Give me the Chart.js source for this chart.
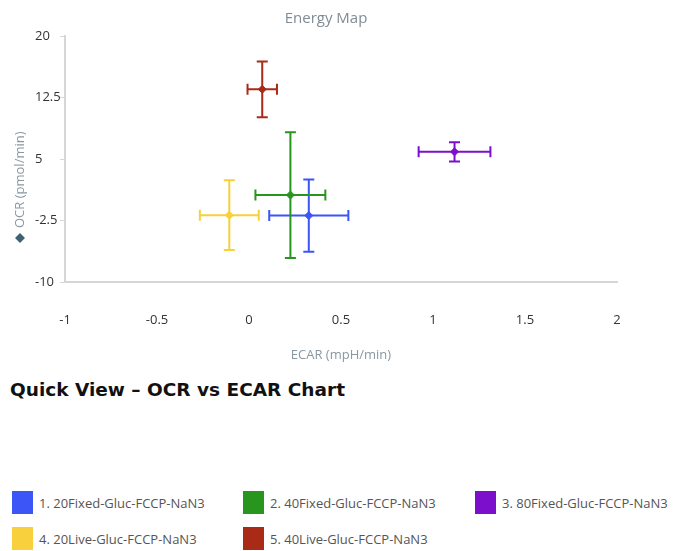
<!DOCTYPE html>
<html>
<head>
<meta charset="utf-8">
<script src="https://cdn.jsdelivr.net/npm/chart.js@4/dist/chart.umd.min.js"></script>
<style>
  html, body { margin: 0; padding: 0; background: #fff; }
  #wrap { position: relative; width: 675px; height: 551px; overflow: hidden; }
  #chartBox { position: absolute; left: 0; top: 0; width: 675px; height: 370px; }
  #heading {
    position: absolute; left: 10px; top: 379px; line-height: 22px;
    font-family: "DejaVu Sans", sans-serif; font-weight: bold; font-size: 18.5px; color: #111;
  }
  .legItem { position: absolute; height: 23px; display: flex; align-items: center;
    font-family: "Open Sans", sans-serif; font-size: 13px; color: #555; white-space: nowrap; }
  .legItem span.sw { display: inline-block; width: 21px; height: 23px; margin-right: 6px; }
</style>
</head>
<body>
<div id="wrap">
  <div id="chartBox"><canvas id="energyChart" width="675" height="370"></canvas></div>
  <div id="heading">Quick View – OCR vs ECAR Chart</div>
  <div id="legend"></div>
</div>
<script>
// Groups
const groupLabels = [
  '1. 20Fixed-Gluc-FCCP-NaN3',
  '2. 40Fixed-Gluc-FCCP-NaN3',
  '3. 80Fixed-Gluc-FCCP-NaN3',
  '4. 20Live-Gluc-FCCP-NaN3',
  '5. 40Live-Gluc-FCCP-NaN3'
];
const groupColors = ['#3b55f7', '#28961e', '#7b0fcc', '#f8cf3c', '#a82a17'];

// ECAR (x) and OCR (y) means with their errors
const ecarValues = [0.325, 0.225, 1.117, -0.107, 0.072];
const ecarErrors = [0.215, 0.19, 0.195, 0.16, 0.08];
const ocrValues = [-1.9, 0.6, 5.87, -1.85, 13.5];
const ocrErrors = [4.4, 7.67, 1.17, 4.25, 3.4];

// Axis ranges and tick labels
const xMin = -1, xMax = 2, xStep = 0.5;
const yMin = -10, yMax = 20, yStep = 7.5;
const xTickLabels = ['-1', '-0.5', '0', '0.5', '1', '1.5', '2'];
const yTickLabels = ['-10', '-2.5', '5', '12.5', '20'];

// Legend placement (columns / rows)
const legendCols = [12, 243, 475];
const legendRows = [491, 527];

const datasets = groupLabels.map((label, i) => ({
  label: label,
  data: [{ x: ecarValues[i], y: ocrValues[i], xErr: ecarErrors[i], yErr: ocrErrors[i] }],
  backgroundColor: groupColors[i],
  borderColor: groupColors[i],
  pointStyle: 'rectRot',
  pointRadius: 4,
  borderWidth: 1
}));

// Draw error bars through the chart scales
const errorBars = {
  id: 'errorBars',
  beforeDatasetsDraw(chart) {
    const ctx = chart.ctx;
    const xs = chart.scales.x, ys = chart.scales.y;
    const cap = 5.5;
    ctx.save();
    ctx.lineWidth = 2;
    chart.data.datasets.forEach(ds => {
      ds.data.forEach(p => {
        const cx = xs.getPixelForValue(p.x);
        const cy = ys.getPixelForValue(p.y);
        const x1 = xs.getPixelForValue(p.x - p.xErr);
        const x2 = xs.getPixelForValue(p.x + p.xErr);
        const y1 = ys.getPixelForValue(p.y + p.yErr);
        const y2 = ys.getPixelForValue(p.y - p.yErr);
        ctx.strokeStyle = ds.borderColor;
        ctx.beginPath();
        ctx.moveTo(x1, cy); ctx.lineTo(x2, cy);
        ctx.moveTo(x1, cy - cap); ctx.lineTo(x1, cy + cap);
        ctx.moveTo(x2, cy - cap); ctx.lineTo(x2, cy + cap);
        ctx.moveTo(cx, y1); ctx.lineTo(cx, y2);
        ctx.moveTo(cx - cap, y1); ctx.lineTo(cx + cap, y1);
        ctx.moveTo(cx - cap, y2); ctx.lineTo(cx + cap, y2);
        ctx.stroke();
      });
    });
    ctx.restore();
  }
};

// Y axis title with the diamond marker
const yTitle = {
  id: 'yTitle',
  afterDraw(chart) {
    const ctx = chart.ctx;
    ctx.save();
    ctx.translate(20, 238);
    ctx.fillStyle = '#3f6272';
    ctx.beginPath();
    ctx.moveTo(0, -5); ctx.lineTo(5, 0); ctx.lineTo(0, 5); ctx.lineTo(-5, 0);
    ctx.closePath();
    ctx.fill();
    ctx.rotate(-Math.PI / 2);
    ctx.fillStyle = '#8a98a2';
    ctx.font = '13px "Open Sans", sans-serif';
    ctx.textAlign = 'left';
    ctx.textBaseline = 'middle';
    ctx.fillText('OCR (pmol/min)', 10, 0);
    ctx.restore();
  }
};

new Chart(document.getElementById('energyChart'), {
  type: 'scatter',
  data: { datasets: datasets },
  plugins: [errorBars, yTitle],
  options: {
    responsive: false,
    animation: false,
    layout: { padding: { left: 35, right: 58, top: 0, bottom: 0 } },
    plugins: {
      legend: { display: false },
      tooltip: { enabled: false },
      title: {
        display: true,
        text: 'Energy Map',
        color: '#7f8c96',
        font: { family: '"Open Sans", sans-serif', size: 15, weight: 'normal' },
        padding: { top: 10, bottom: 8 }
      }
    },
    scales: {
      x: {
        type: 'linear',
        min: xMin, max: xMax,
        afterFit: (scale) => { scale.height = 88; },
        ticks: {
          stepSize: xStep,
          padding: 22,
          color: '#333',
          font: { family: '"Open Sans", sans-serif', size: 13 },
          callback: (value, index) => xTickLabels[index]
        },
        grid: { display: false },
        border: { display: true, color: '#d6d6d6', width: 2 },
        title: {
          display: true,
          text: 'ECAR (mpH/min)',
          color: '#8a98a2',
          font: { family: '"Open Sans", sans-serif', size: 13 },
          padding: { top: 0, bottom: 7 }
        }
      },
      y: {
        type: 'linear',
        min: yMin, max: yMax,
        afterFit: (scale) => { scale.width = 30; },
        ticks: {
          stepSize: yStep,
          crossAlign: 'far',
          color: '#333',
          font: { family: '"Open Sans", sans-serif', size: 13 },
          callback: (value, index) => yTickLabels[index]
        },
        grid: { drawOnChartArea: false, drawTicks: true, tickLength: 5, color: '#d6d6d6' },
        border: { display: true, color: '#d6d6d6', width: 2 }
      }
    }
  }
});

// HTML legend below the heading
const legendEl = document.getElementById('legend');
groupLabels.forEach((label, i) => {
  const item = document.createElement('div');
  item.className = 'legItem';
  item.style.left = legendCols[i % 3] + 'px';
  item.style.top = legendRows[Math.floor(i / 3)] + 'px';
  item.innerHTML = '<span class="sw" style="background:' + groupColors[i] + '"></span>' + label;
  legendEl.appendChild(item);
});
</script>
</body>
</html>
